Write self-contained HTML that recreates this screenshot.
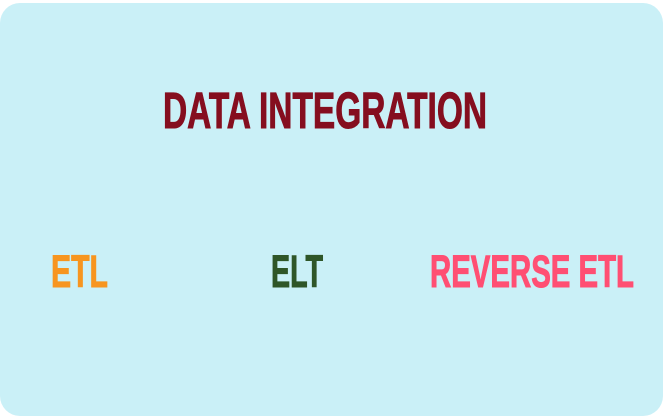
<!DOCTYPE html>
<html><head><style>
html,body{margin:0;padding:0;background:#fff;width:663px;height:417px;overflow:hidden}
</style></head><body>
<svg width="663" height="417" xmlns="http://www.w3.org/2000/svg">
<rect x="0" y="3" width="663" height="413" rx="20" ry="20" fill="#caf0f7"/>
<g font-family="Liberation Sans, sans-serif" font-weight="bold" stroke-width="1">
<text x="163" y="128" font-size="51" fill="#850e1f" stroke="#850e1f" textLength="324" lengthAdjust="spacingAndGlyphs">DATA INTEGRATION</text>
<text x="51" y="287" font-size="45" fill="#f7951f" stroke="#f7951f" textLength="57" lengthAdjust="spacingAndGlyphs">ETL</text>
<text x="271" y="287" font-size="45" fill="#2f5628" stroke="#2f5628" textLength="52" lengthAdjust="spacingAndGlyphs">ELT</text>
<text x="430" y="287" font-size="45" fill="#ff4f73" stroke="#ff4f73" textLength="204" lengthAdjust="spacingAndGlyphs">REVERSE ETL</text>
</g>
</svg>
</body></html>
